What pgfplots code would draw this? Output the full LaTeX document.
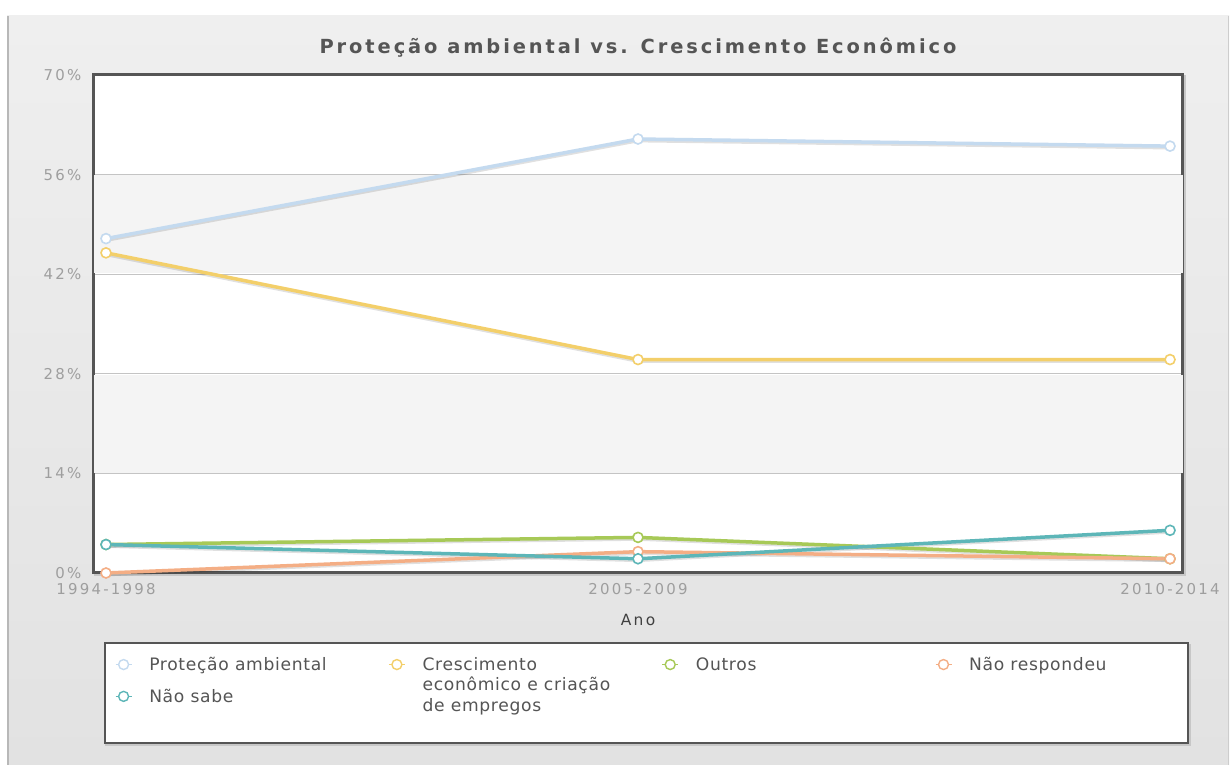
\documentclass[border=0pt]{standalone}
\usepackage{pgfplots}
\usepackage{pgfplotstable}
\pgfplotsset{compat=1.18}
\usepackage{fontspec}
\setmainfont{DejaVu Sans}
\newfontfamily\titlef{DejaVu Sans}[LetterSpace=15]
\newfontfamily\tickf{DejaVu Sans}[LetterSpace=15]
\newfontfamily\legf{DejaVu Sans}[LetterSpace=4]
\newfontfamily\labf{DejaVu Sans}[LetterSpace=15]

\definecolor{cPA}{HTML}{C4DAEF}
\definecolor{cCE}{HTML}{F3CF6A}
\definecolor{cOU}{HTML}{A7C957}
\definecolor{cNR}{HTML}{F4AE85}
\definecolor{cNS}{HTML}{5DB6B8}
\definecolor{framec}{HTML}{555555}
\definecolor{gridc}{HTML}{C4C4C4}
\definecolor{bandc}{HTML}{F4F4F4}
\definecolor{tickc}{HTML}{9E9E9E}
\definecolor{textc}{HTML}{555555}
\definecolor{panelT}{HTML}{EFEFEF}
\definecolor{panelB}{HTML}{E2E2E2}
\definecolor{panelL}{HTML}{B8B8B8}

\pgfplotstableread{
x PA CE OU NR NS
0 47 45 4 0 4
1 61 30 5 3 2
2 60 30 2 2 6
}\data

\begin{document}
\begin{tikzpicture}[x=1bp,y=1bp]
\fill[white] (0,0) rectangle (1232,765);
\shade[top color=panelT, bottom color=panelB] (7,0) rectangle (1229,749);
\draw[panelL, line width=2] (8,0) -- (8,749);
\draw[panelL!70, line width=1.5] (1228.5,0) -- (1228.5,749);
% plot frame shadow
\draw[black!22, line width=3] (95.5,190) rectangle (1184.5,688);
% legend box
\draw[black!22, line width=2.5] (106,20) rectangle (1190,120);
\draw[framec, fill=white, line width=2] (105,22) rectangle (1188,122);

\begin{axis}[
  at={(93.5bp,192bp)}, anchor=south west,
  scale only axis, width=1089bp, height=498bp,
  clip=false,
  axis background/.style={fill=white},
  xmin=-0.0235, xmax=2.0235, ymin=0, ymax=70,
  xtick={0,1,2}, xticklabels={1994-1998,2005-2009,2010-2014},
  ytick={0,14,28,42,56,70}, yticklabels={0\%,14\%,28\%,42\%,56\%,70\%},
  major tick length=0,
  ymajorgrids, grid style={gridc, line width=1.3bp},
  axis line style={framec, line width=3bp},
  tick label style={font=\tickf\fontsize{15}{17}\selectfont, text=tickc},
  yticklabel style={inner sep=0pt, xshift=-12bp},
  xticklabel style={inner sep=0pt, yshift=-10bp},
  title={Proteção ambiental vs. Crescimento Econômico},
  title style={at={(axis description cs:0.5,1.042)}, anchor=center,
     font=\titlef\bfseries\fontsize{19.5}{22}\selectfont, text=textc},
  xlabel={Ano},
  xlabel style={at={(axis description cs:0.5,-0.0944)}, anchor=center,
     font=\labf\fontsize{15.5}{18}\selectfont, text=black!75},
  every axis plot/.append style={line width=3.5bp, mark=*, mark size=5bp,
     mark options={fill=white, line width=1.6bp}},
  legend columns=4,
  legend cell align=left,
  legend image code/.code={
    \draw[#1, line width=1.3bp] (0bp,0bp) -- (16bp,0bp);
    \draw[#1, line width=1.4bp, fill=white] (8bp,0bp) circle (5bp);
  },
  legend style={at={(axis description cs:0.0197,-0.1690)}, anchor=north west,
     draw=none, fill=none, inner sep=0pt, outer sep=0pt, row sep=17bp,
     font=\legf\fontsize{17.2}{20.5}\selectfont, text=textc,
     nodes={inner sep=0pt},
     /tikz/every odd column/.append style={column sep=17bp}},
]
\fill[bandc] (axis cs:-0.0235,14.12) rectangle (axis cs:2.0235,27.88);
\fill[bandc] (axis cs:-0.0235,42.12) rectangle (axis cs:2.0235,55.88);

\addplot[forget plot, black, opacity=0.12, mark=none, yshift=-1.6bp] table[x=x,y=PA] {\data};
\addplot[forget plot, black, opacity=0.12, mark=none, yshift=-1.6bp] table[x=x,y=CE] {\data};
\addplot[forget plot, black, opacity=0.12, mark=none, yshift=-1.6bp] table[x=x,y=OU] {\data};
\addplot[forget plot, black, opacity=0.12, mark=none, yshift=-1.6bp] table[x=x,y=NR] {\data};
\addplot[forget plot, black, opacity=0.12, mark=none, yshift=-1.6bp] table[x=x,y=NS] {\data};

\addplot[color=cPA] table[x=x,y=PA] {\data};
\addlegendentry{\makebox[239bp][l]{Proteção ambiental}}
\addplot[color=cCE] table[x=x,y=CE] {\data};
\addlegendentry{\makebox[239bp][l]{\raisebox{0pt}[\height][0pt]{\vtop{\hbox{Crescimento}\hbox{econômico e criação}\hbox{de empregos}}}}}
\addplot[color=cOU] table[x=x,y=OU] {\data};
\addlegendentry{\makebox[239bp][l]{Outros}}
\addplot[color=cNR] table[x=x,y=NR] {\data};
\addlegendentry{\makebox[239bp][l]{Não respondeu}}
\addplot[color=cNS] table[x=x,y=NS] {\data};
\addlegendentry{\makebox[239bp][l]{Não sabe}}
\end{axis}
\pgfresetboundingbox
\path[use as bounding box] (0,0) rectangle (1232,765);
\end{tikzpicture}
\end{document}
